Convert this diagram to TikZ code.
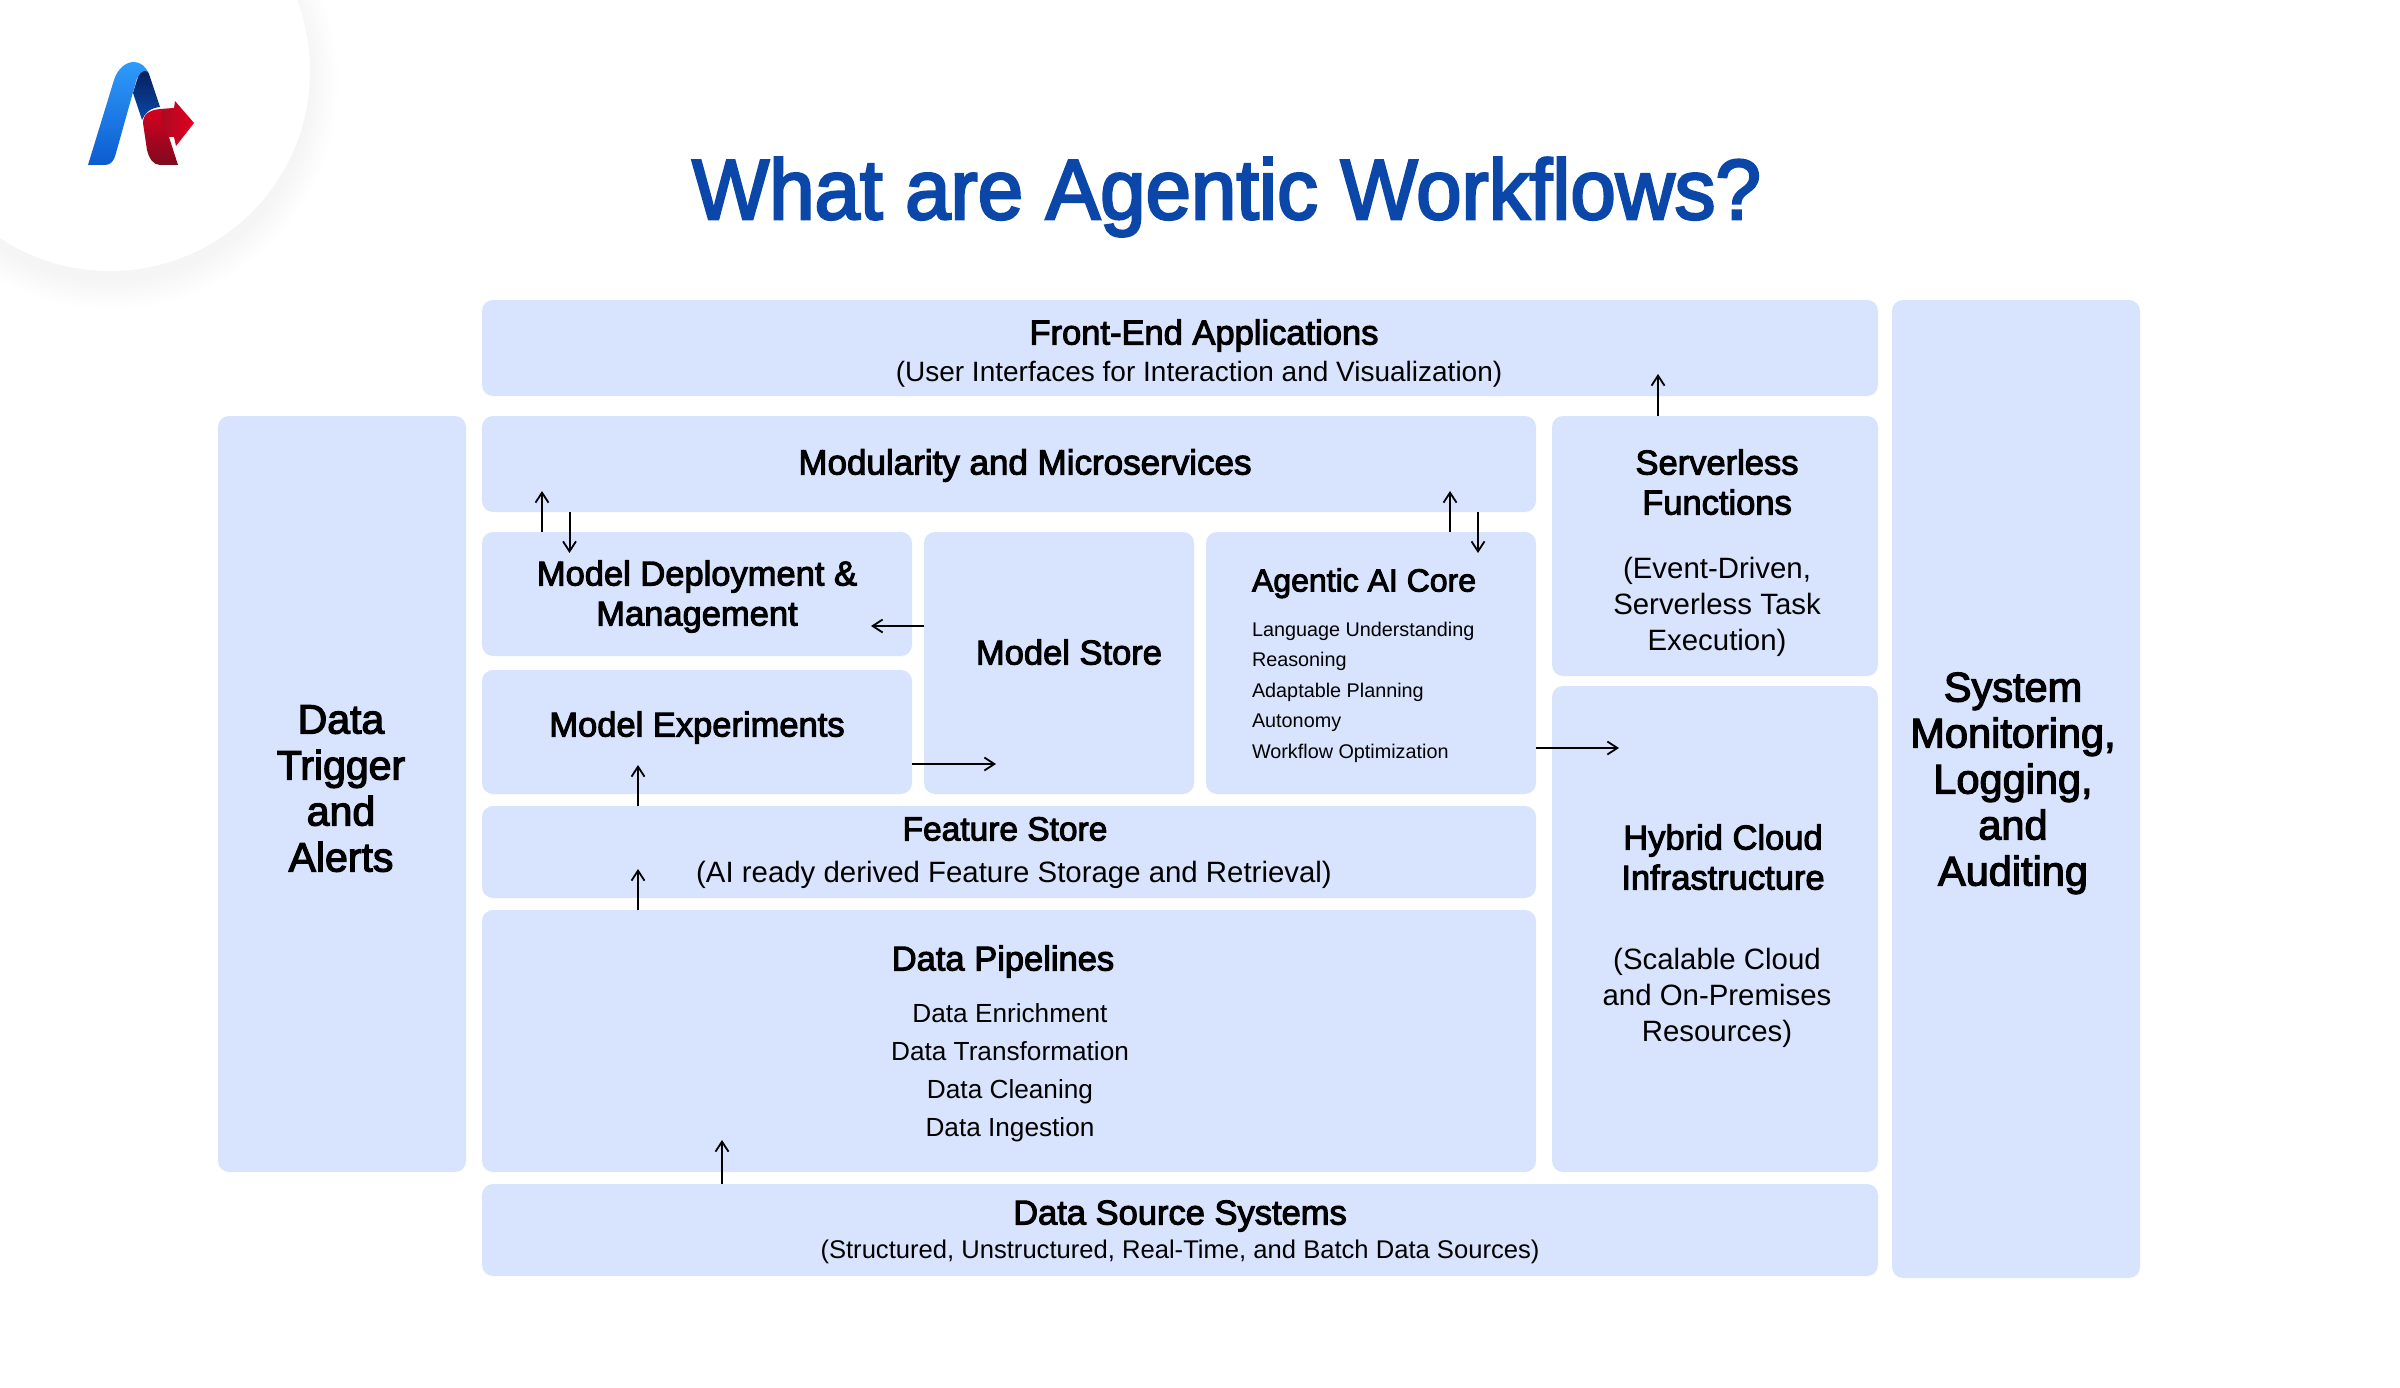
\documentclass[tikz,border=0pt]{standalone}
\usepackage{fontspec}
\usetikzlibrary{arrows.meta}
\setmainfont{Liberation Sans}
\newfontfamily\medf{Liberation Sans}[FakeBold=3]
\newfontfamily\titf{Liberation Sans}[FakeBold=3,FakeStretch=0.96]
\definecolor{boxfill}{HTML}{D8E3FD}
\definecolor{titleblue}{HTML}{0B47A8}
\definecolor{logoa}{HTML}{0C5BD0}
\definecolor{logob}{HTML}{2F9BFB}
\definecolor{logoc}{HTML}{06215F}
\definecolor{logod}{HTML}{0A47A8}
\definecolor{logoe}{HTML}{D8001F}
\definecolor{logof}{HTML}{7E0A1E}
\definecolor{logog}{HTML}{A80A22}
\definecolor{logoh}{HTML}{E5001F}
\tikzset{
  x=1pt,y=1pt,
  bx/.style={fill=boxfill,draw=none,rounded corners=11pt,inner sep=0pt,outer sep=0pt},
  arr/.style={draw=black,line width=2pt,-{Straight Barb[length=10pt,width=13pt,line width=1.8pt]}},
  tt/.style={anchor=north,align=center,inner sep=0pt,outer sep=0pt,text=black},
  hd/.style={tt,font=\medf\fontsize{34.5}{40}\selectfont,yshift=29.5pt},
  hdm/.style={tt,font=\medf\fontsize{35}{40}\selectfont,yshift=29.5pt},
  hdf/.style={tt,font=\medf\fontsize{33.5}{40}\selectfont,yshift=29.5pt},
  hdc/.style={tt,font=\medf\fontsize{32}{40}\selectfont,yshift=28.5pt},
  hdl/.style={tt,font=\medf\fontsize{41.5}{46}\selectfont,yshift=33.7pt},
  hdt/.style={tt,font=\medf\fontsize{41}{46}\selectfont,yshift=33.7pt},
  sb/.style={tt,font=\fontsize{29.4}{36}\selectfont,yshift=26.2pt},
  sbf/.style={tt,font=\fontsize{28}{36}\selectfont,yshift=25.2pt},
  sbd/.style={tt,font=\fontsize{25.6}{36}\selectfont,yshift=27pt},
  pipe/.style={tt,font=\fontsize{26.2}{38.3}\selectfont,yshift=26.8pt},
  core/.style={tt,anchor=north west,align=left,font=\fontsize{19.8}{30.5}\selectfont,yshift=21.35pt},
}
\newcommand\bxx[5]{\node[bx,minimum width={(#4)-(#2)},minimum height={(#5)-(#3)}] (#1) at ({((#2)+(#4))/2},{-((#3)+(#5))/2}) {};}
\begin{document}
\begin{tikzpicture}
\useasboundingbox (0,0) rectangle (2400,-1388);
\clip (0,0) rectangle (2400,-1388);
\fill[white] (0,0) rectangle (2400,-1388);
% logo disc with soft shadow
\foreach \r in {0,3,...,27}{\fill[black,opacity=0.0042] (111,-82) circle ({200+\r});}
\fill[white] (110,-71) circle (200);
\shade[shading angle=200,top color=logob,bottom color=logoa]
 (88,-165) -- (114,-80) .. controls (118,-68) and (126,-62) .. (134,-62)
 .. controls (141,-62) and (146,-67) .. (149,-74) -- (137,-78) -- (116,-153)
 .. controls (114,-161) and (111,-165) .. (105,-165) -- cycle;
\shade[top color=logoc,bottom color=logod]
 (133,-93) -- (137,-80) .. controls (139,-74) and (142,-71) .. (145,-71)
 .. controls (147,-71) and (148,-72) .. (149,-74) -- (160,-107)
 .. controls (150,-108) and (145,-113) .. (142,-120) -- cycle;
\shade[top color=logoe,bottom color=logof]
 (143,-123) .. controls (143,-114) and (150,-110) .. (160,-109) -- (174,-108) -- (169,-137)
 -- (178,-165) -- (160,-165) .. controls (153,-165) and (149,-158) .. (147,-150) -- cycle;
\shade[left color=logog,right color=logoh]
 (162,-110) -- (174,-108) -- (175,-101) -- (194,-123) -- (176,-146) -- (174,-137) -- (169,-137)
 .. controls (165,-130) and (160,-120) .. (162,-110) -- cycle;
% title
\node[anchor=base,inner sep=0pt,text=titleblue,font=\titf\fontsize{85}{100}\selectfont] (title) at (1226.5,-219) {What are Agentic Workflows?};
% boxes
\bxx{front}{482}{300}{1878}{396}
\bxx{sysm}{1892}{300}{2140}{1278}
\bxx{trig}{218}{416}{466}{1172}
\bxx{modu}{482}{416}{1536}{512}
\bxx{serv}{1552}{416}{1878}{676}
\bxx{hybr}{1552}{686}{1878}{1172}
\bxx{depl}{482}{532}{912}{656}
\bxx{expe}{482}{670}{912}{794}
\bxx{stor}{924}{532}{1194}{794}
\bxx{core}{1206}{532}{1536}{794}
\bxx{feat}{482}{806}{1536}{898}
\bxx{pipe}{482}{910}{1536}{1172}
\bxx{sour}{482}{1184}{1878}{1276}
% labels
\node[hd] (tfront) at (1204,-346) {\strut Front-End Applications};
\node[sbf] (sfront) at (1199,-381) {\strut (User Interfaces for Interaction and Visualization)};
\node[hdm] (tmodu) at (1025,-476) {\strut Modularity and Microservices};
\node[hd] (tserv) at (1717,-476) {\strut Serverless\\Functions};
\node[sb] (sserv) at (1717,-579) {\strut (Event-Driven,\\Serverless Task\\Execution)};
\node[hd] (tdepl) at (697,-587) {\strut Model Deployment \&\\Management};
\node[hd] (tstor) at (1069,-666) {\strut Model Store};
\node[hdc,anchor=north west] (tcore) at (1252,-592) {\strut Agentic AI Core};
\node[core] (score) at (1252,-636) {\strut Language Understanding\\Reasoning\\Adaptable Planning\\Autonomy\\Workflow Optimization};
\node[hd] (texpe) at (697,-738) {\strut Model Experiments};
\node[hdf] (tfeat) at (1005,-842) {\strut Feature Store};
\node[sb] (sfeat) at (1014,-883) {\strut (AI ready derived Feature Storage and Retrieval)};
\node[hd] (tpipe) at (1003,-972) {\strut Data Pipelines};
\node[pipe] (spipe) at (1010,-1022) {\strut Data Enrichment\\Data Transformation\\Data Cleaning\\Data Ingestion};
\node[hd] (tsour) at (1180,-1226) {\strut Data Source Systems};
\node[sbd] (ssour) at (1180,-1260) {\strut (Structured, Unstructured, Real-Time, and Batch Data Sources)};
\node[hd] (thybr) at (1723,-851) {\strut Hybrid Cloud\\Infrastructure};
\node[sb] (shybr) at (1717,-970) {\strut (Scalable Cloud\\and On-Premises\\Resources)};
\node[hdl] (tsysm) at (2013,-703) {\strut System\\Monitoring,\\Logging,\\and\\Auditing};
\node[hdt] (ttrig) at (341,-735) {\strut Data\\Trigger\\and\\Alerts};
% arrow ends
\coordinate (a1) at (542,-491);
\coordinate (a2) at (569.5,-553);
\coordinate (a3) at (1450,-491);
\coordinate (a4) at (1478,-553);
\coordinate (a5) at (871,-626);
\coordinate (a6) at (996,-764);
\coordinate (a7) at (1619,-748);
\coordinate (a8) at (638,-765);
\coordinate (a9) at (638,-869);
\coordinate (a10) at (722,-1140);
\coordinate (a11) at (1658,-374);
\draw[arr] (depl.north -| a1) -- (a1);
\draw[arr] (modu.south -| a2) -- (a2);
\draw[arr] (core.north -| a3) -- (a3);
\draw[arr] (modu.south -| a4) -- (a4);
\draw[arr] (stor.west |- a5) -- (a5);
\draw[arr] (expe.east |- a6) -- (a6);
\draw[arr] (core.east |- a7) -- (a7);
\draw[arr] (feat.north -| a8) -- (a8);
\draw[arr] (pipe.north -| a9) -- (a9);
\draw[arr] (sour.north -| a10) -- (a10);
\draw[arr] (serv.north -| a11) -- (a11);
\end{tikzpicture}
\end{document}
